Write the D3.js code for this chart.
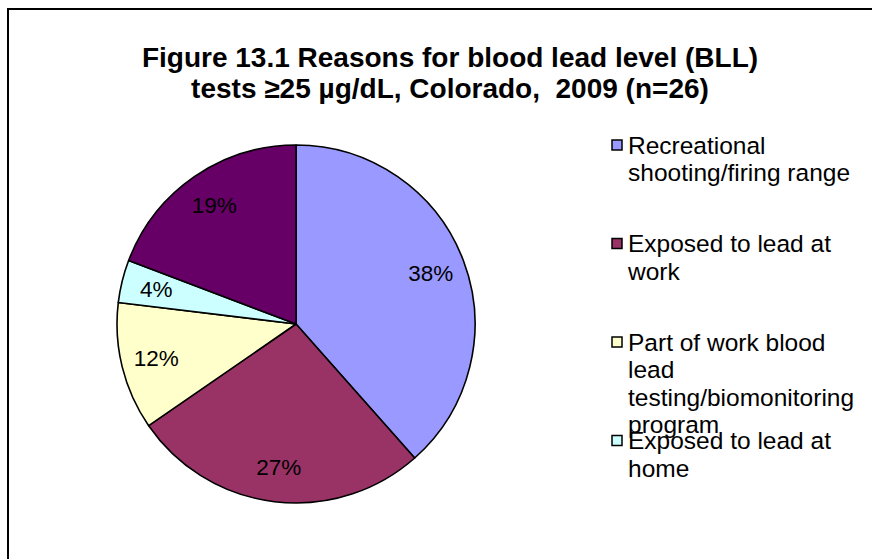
<!DOCTYPE html>
<html>
<head>
<meta charset="utf-8">
<script src="https://cdn.jsdelivr.net/npm/d3@7"></script>
<style>
  html, body { margin: 0; padding: 0; background: #fff; }
  svg { display: block; }
  text { font-family: "Liberation Sans", Arial, sans-serif; }
</style>
</head>
<body>
<svg id="chart" width="872" height="559"></svg>
<script>
// ---- data (n = 26) ----
const categories = [
  "Recreational shooting/firing range",
  "Exposed to lead at work",
  "Part of work blood lead testing/biomonitoring program",
  "Exposed to lead at home",
  "Other"
];
const counts = [10, 7, 3, 1, 5];
const colors = ["#9999FF", "#993366", "#FFFFCC", "#CCFFFF", "#660066"];
const legendLines = [
  ["Recreational", "shooting/firing range"],
  ["Exposed to lead at", "work"],
  ["Part of work blood", "lead", "testing/biomonitoring", "program"],
  ["Exposed to lead at", "home"]
];
const titleLines = [
  "Figure 13.1 Reasons for blood lead level (BLL)",
  "tests \u226525 \u00b5g/dL, Colorado,  2009 (n=26)"
];

const svg = d3.select("#chart");

// frame
svg.append("rect")
  .attr("x", 8).attr("y", 9)
  .attr("width", 900).attr("height", 600)
  .attr("fill", "#fff").attr("stroke", "#000").attr("stroke-width", 2);

// title
svg.append("text")
  .attr("x", 450).attr("y", 67)
  .attr("text-anchor", "middle")
  .attr("font-weight", "bold")
  .attr("font-size", 28)
  .attr("xml:space", "preserve")
  .style("white-space", "pre")
  .selectAll("tspan").data(titleLines).join("tspan")
  .attr("x", 450).attr("dy", (d, i) => i === 0 ? 0 : 31)
  .text(d => d);

// pie
const cx = 296, cy = 324, r = 179;
const total = d3.sum(counts);
const pie = d3.pie().sort(null).value(d => d)(counts);
const arc = d3.arc().innerRadius(0).outerRadius(r);
const labelArc = d3.arc().innerRadius(144).outerRadius(144);

const g = svg.append("g").attr("transform", `translate(${cx},${cy})`);
g.selectAll("path").data(pie).join("path")
  .attr("d", arc)
  .attr("fill", (d, i) => colors[i])
  .attr("stroke", "#000").attr("stroke-width", 1.6)
  .attr("stroke-linejoin", "round");

g.selectAll("text.lbl").data(pie).join("text")
  .attr("class", "lbl")
  .attr("transform", d => `translate(${labelArc.centroid(d)})`)
  .attr("text-anchor", "middle")
  .attr("dy", "0.35em")
  .attr("font-size", 22.5)
  .attr("fill", "#000")
  .text(d => d3.format(".0%")(d.data / total));

// legend (only four entries fit in the reference)
const lg = svg.append("g");
legendLines.forEach((lines, i) => {
  const y0 = 145 + i * 98.5;
  lg.append("rect")
    .attr("x", 612).attr("y", y0 - 5)
    .attr("width", 10).attr("height", 10)
    .attr("fill", colors[i]).attr("stroke", "#000").attr("stroke-width", 1.5);
  lg.append("text")
    .attr("font-size", 24.5)
    .selectAll("tspan").data(lines).join("tspan")
    .attr("x", 628)
    .attr("y", (d, j) => y0 + 8.5 + j * 27.5)
    .text(d => d);
});
</script>
</body>
</html>
